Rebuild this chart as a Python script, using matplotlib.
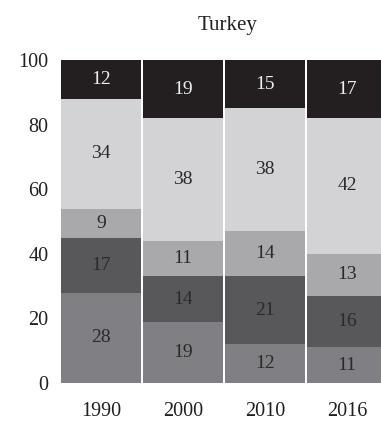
import numpy as np
import matplotlib
matplotlib.use('Agg')
import matplotlib.pyplot as plt

# data, bottom to top
years = ['1990', '2000', '2010', '2016']
seg1 = [28, 19, 12, 11]
seg2 = [17, 14, 21, 16]
seg3 = [9, 11, 14, 13]
seg4 = [34, 38, 38, 42]
seg5 = [12, 19, 15, 17]

series = [seg1, seg2, seg3, seg4, seg5]
colours = ['#808084', '#58585a', '#a9a9ab', '#d3d3d5', '#231f20']
text_colours = ['#2a2a2a', '#2a2a2a', '#2a2a2a', '#2a2a2a', '#eeeeee']

plt.rcParams['font.family'] = ['Liberation Serif', 'DejaVu Serif']

fig = plt.figure(figsize=(3.81, 4.22), dpi=100)
ax = fig.add_axes([61 / 381, 39 / 422, 320 / 381, 323 / 422])

x = np.arange(len(years))
bottom = np.zeros(len(years))
for i, (vals, col, tcol) in enumerate(zip(series, colours, text_colours)):
    vals = np.array(vals, dtype=float)
    # top segment fills up to 100 (shares are rounded)
    heights = 100 - bottom if i == len(series) - 1 else vals
    ax.bar(x, heights, bottom=bottom, width=0.975, color=col,
           edgecolor='none', linewidth=0)
    for xi, b, h, v in zip(x, bottom, heights, vals):
        ax.text(xi, b + h / 2, f'{int(v)}', ha='center', va='center',
                fontsize=14, color=tcol)
    bottom = bottom + heights

ax.set_xlim(-0.4875, 3.415)
ax.set_ylim(0, 100)
ax.set_xticks(x)
ax.set_xticklabels(years)
ax.set_yticks([0, 20, 40, 60, 80, 100])
ax.tick_params(axis='both', length=0, labelsize=14.5, colors='#231f20')
ax.tick_params(axis='y', pad=9)
ax.tick_params(axis='x', pad=14)
for s in ax.spines.values():
    s.set_visible(False)

fig.text(228 / 381, 1 - 30 / 422, 'Turkey', ha='center', va='baseline',
         fontsize=15, color='#231f20')

fig.savefig('out.png', dpi=100)
